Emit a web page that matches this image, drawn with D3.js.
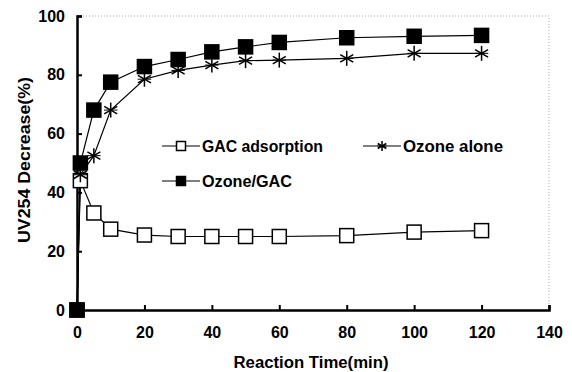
<!DOCTYPE html>
<html>
<head>
<meta charset="utf-8">
<script src="https://cdn.jsdelivr.net/npm/d3@7"></script>
<style>
  body { margin: 0; background: #fff; }
  text { font-family: "Liberation Sans", Arial, sans-serif; font-weight: bold; fill: #000; }
</style>
</head>
<body>
<div id="chart"></div>
<script>
// data
var times = [0, 1, 5, 10, 20, 30, 40, 50, 60, 80, 100, 120];
var gacAdsorption = [0, 44, 33, 27.5, 25.5, 25, 25, 25, 25, 25.3, 26.5, 27];
var ozoneAlone = [0, 46, 52.5, 68, 78.5, 81.5, 83.3, 84.8, 85, 85.6, 87.3, 87.3];
var ozoneGac = [0, 50, 68, 77.5, 82.8, 85.2, 87.8, 89.5, 91, 92.6, 93.1, 93.4];
var xTicks = [0, 20, 40, 60, 80, 100, 120, 140];
var yTicks = [0, 20, 40, 60, 80, 100];

var width = 572, height = 372;
var margin = {left: 77, right: 23, top: 16, bottom: 62};

var svg = d3.select('#chart').append('svg')
  .attr('width', width)
  .attr('height', height);

var x = d3.scaleLinear().domain([0, 140]).range([margin.left, width - margin.right]);
var y = d3.scaleLinear().domain([0, 100]).range([height - margin.bottom, margin.top]);

// dotted frame on top and right
svg.append('path')
  .attr('d', 'M' + x(0) + ',' + y(100) + 'H' + x(140) + 'V' + y(0))
  .attr('fill', 'none')
  .attr('stroke', '#aaa')
  .attr('stroke-width', 1)
  .attr('stroke-dasharray', '1,2');

// axes
var xAxis = svg.append('g')
  .attr('transform', 'translate(0,' + y(0) + ')')
  .call(d3.axisBottom(x).tickValues(xTicks).tickSize(-5).tickPadding(17));
var yAxis = svg.append('g')
  .attr('transform', 'translate(' + x(0) + ',0)')
  .call(d3.axisLeft(y).tickValues(yTicks).tickSize(-5).tickPadding(12));

[xAxis, yAxis].forEach(function(a) {
  a.select('.domain').attr('stroke', '#000').attr('stroke-width', 2.5);
  a.selectAll('.tick line').attr('stroke', '#000').attr('stroke-width', 2);
  a.selectAll('.tick text').style('font-size', '16px').style('font-family', '"Liberation Sans", Arial, sans-serif').style('font-weight', 'bold');
});
xAxis.selectAll('.tick text').attr('dy', '0.71em');

svg.append('text')
  .attr('x', x(70) - 2)
  .attr('y', 368)
  .attr('text-anchor', 'middle')
  .attr('textLength', 155)
  .attr('lengthAdjust', 'spacingAndGlyphs')
  .style('font-size', '16px')
  .text('Reaction Time(min)');

svg.append('text')
  .attr('transform', 'translate(30,' + 160 + ') rotate(-90)')
  .attr('text-anchor', 'middle')
  .attr('textLength', 166)
  .attr('lengthAdjust', 'spacingAndGlyphs')
  .style('font-size', '17px')
  .text('UV254 Decrease(%)');

var line = d3.line()
  .x(function(d) { return x(d[0]); })
  .y(function(d) { return y(d[1]); });

function pairs(vals) {
  return times.map(function(t, i) { return [t, vals[i]]; });
}

var series = [
  {name: 'GAC adsorption', values: gacAdsorption, symbol: 'open', w: 121},
  {name: 'Ozone alone', values: ozoneAlone, symbol: 'star', w: 100},
  {name: 'Ozone/GAC', values: ozoneGac, symbol: 'filled', w: 90}
];

function drawMarker(g, type, cx, cy, s) {
  if (type === 'star') {
    var r = s / 2;
    [0, 60, 120].forEach(function(a) {
      var rad = a * Math.PI / 180;
      g.append('line')
        .attr('x1', cx - r * Math.sin(rad)).attr('y1', cy - r * Math.cos(rad))
        .attr('x2', cx + r * Math.sin(rad)).attr('y2', cy + r * Math.cos(rad))
        .attr('stroke', '#000').attr('stroke-width', 1.5);
    });
    g.append('line')
      .attr('x1', cx - r * 0.9).attr('y1', cy)
      .attr('x2', cx + r * 0.9).attr('y2', cy)
      .attr('stroke', '#000').attr('stroke-width', 1);
  } else {
    g.append('rect')
      .attr('x', cx - s / 2).attr('y', cy - s / 2)
      .attr('width', s).attr('height', s)
      .attr('fill', type === 'filled' ? '#000' : '#fff')
      .attr('stroke', '#000').attr('stroke-width', 1.5);
  }
}

// lines first, then markers
series.forEach(function(s) {
  svg.append('path')
    .datum(pairs(s.values))
    .attr('d', line)
    .attr('fill', 'none')
    .attr('stroke', '#000')
    .attr('stroke-width', 1.2);
});

series.forEach(function(s) {
  var g = svg.append('g');
  pairs(s.values).forEach(function(d) {
    drawMarker(g, s.symbol, x(d[0]), y(d[1]), s.symbol === 'star' ? 15 : 14);
  });
});

// legend
var legendItems = [
  {s: series[0], lx: 162, ly: 146},
  {s: series[1], lx: 363, ly: 146},
  {s: series[2], lx: 162, ly: 181}
];
legendItems.forEach(function(it) {
  var g = svg.append('g');
  g.append('line')
    .attr('x1', it.lx).attr('x2', it.lx + 38)
    .attr('y1', it.ly).attr('y2', it.ly)
    .attr('stroke', '#000').attr('stroke-width', 1.2);
  drawMarker(g, it.s.symbol, it.lx + 19, it.ly, it.s.symbol === 'star' ? 10 : 9);
  g.append('text')
    .attr('x', it.lx + 40)
    .attr('y', it.ly)
    .attr('dy', '0.35em')
    .attr('textLength', it.s.w)
    .attr('lengthAdjust', 'spacingAndGlyphs')
    .style('font-size', '16px')
    .text(it.s.name);
});
</script>
</body>
</html>
